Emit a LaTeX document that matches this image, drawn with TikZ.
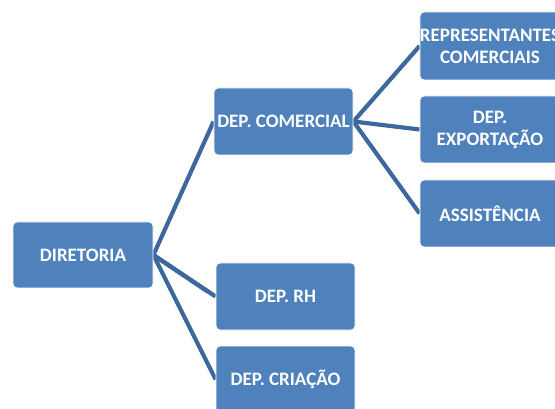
\documentclass[tikz,border=0pt]{standalone}
\usepackage{fontspec}
\setmainfont{Carlito}
\usetikzlibrary{backgrounds,calc}
\definecolor{boxblue}{RGB}{79,129,189}
\definecolor{lineblue}{RGB}{60,104,158}
\tikzset{
  orgbox/.style={draw=white, line width=0.8pt, fill=boxblue, rounded corners=4pt,
    minimum width=139pt, minimum height=67pt, inner sep=0pt, text=white,
    font=\fontsize{19}{22}\selectfont\bfseries, align=center},
  link/.style={draw=lineblue, line width=4.2pt}
}
\begin{document}
\begin{tikzpicture}[x=1pt,y=-1pt]
\useasboundingbox (0,0) rectangle (555,409);
\node[orgbox, minimum width=140pt, minimum height=66pt] (dir) at (83,255) {DIRETORIA};
\node[orgbox] (com) at (283.5,121.5) {DEP. COMERCIAL};
\node[orgbox] (rh) at (285.5,296.5) {DEP. RH};
\node[orgbox] (cri) at (285.5,379.5) {DEP. CRIAÇÃO};
\node[orgbox, minimum width=140pt, minimum height=68pt] (rep) at (490,46) {REPRESENTANTES\\COMERCIAIS};
\node[orgbox, minimum width=140pt] (exp) at (490,129.5) {DEP.\\EXPORTAÇÃO};
\node[orgbox, minimum width=140pt] (ass) at (490,213.5) {ASSISTÊNCIA};
\coordinate (rhb) at ($(rh.west)+(-8,-5)$);
\begin{scope}[on background layer]
\draw[link] (dir.east) -- (com.west);
\draw[link] (dir.east) -- (rh.west);
\draw[link] (dir.east) -- (rhb);
\draw[link] (dir.east) -- (cri.west);
\draw[link] (com.east) -- (rep.west);
\draw[link] (com.east) -- (exp.west);
\draw[link] (com.east) -- (ass.west);
\end{scope}
\end{tikzpicture}
\end{document}
